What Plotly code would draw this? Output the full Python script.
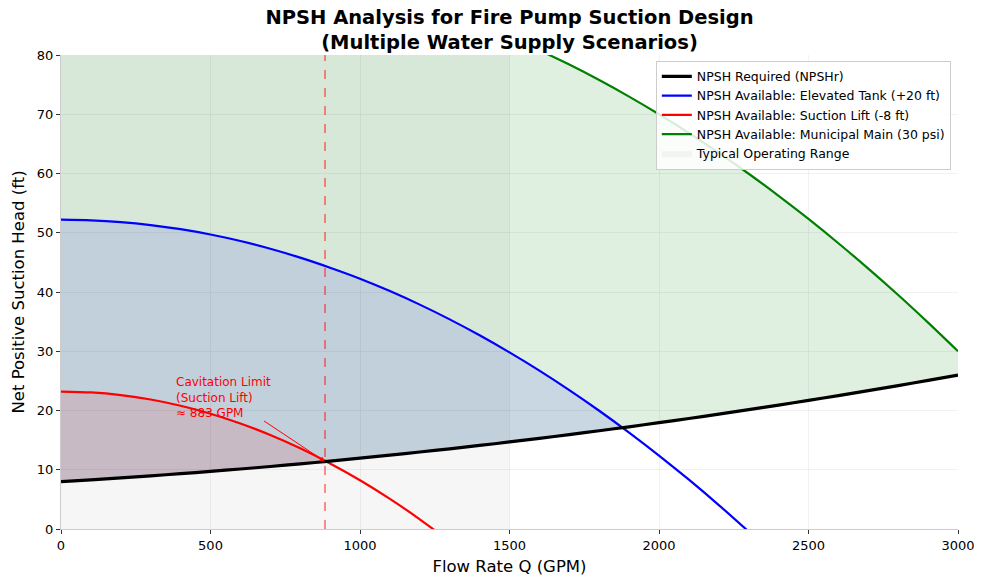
import numpy as np
import plotly.graph_objects as go

# ---- data ----
Q = [0, 100, 200, 300, 400, 500, 600, 700, 800, 900, 1000, 1100, 1200, 1300, 1400, 1500,
     1600, 1700, 1800, 1900, 2000, 2100, 2200, 2300, 2400, 2500, 2600, 2700, 2800, 2900, 3000]
npsh_required = [8.0, 8.3, 8.63, 8.97, 9.34, 9.72, 10.13, 10.55, 11.0, 11.46, 11.95, 12.46, 12.99,
                 13.53, 14.1, 14.69, 15.3, 15.93, 16.58, 17.25, 17.94, 18.65, 19.38, 20.14, 20.91,
                 21.7, 22.51, 23.35, 24.2, 25.08, 25.97]
npsh_elevated = [52.2, 52.1, 51.8, 51.3, 50.6, 49.7, 48.6, 47.3, 45.8, 44.1, 42.25, 40.16, 37.87,
                 35.38, 32.7, 29.81, 26.73, 23.44, 19.96, 16.28, 12.4, 8.32, 4.04, -0.44]
npsh_suction = [23.2, 23.05, 22.6, 21.85, 20.8, 19.46, 17.81, 15.86, 13.62, 11.07, 8.23, 5.09, 1.64, -2.1]
npsh_municipal = [94.2, 94.76, 95.13, 95.31, 95.31, 95.12, 94.75, 94.19, 93.45, 92.52, 91.4, 90.1,
                  88.61, 86.94, 85.08, 83.03, 80.79, 78.38, 75.77, 72.98, 70.0, 66.84, 63.49, 59.96,
                  56.23, 52.33, 48.23, 43.95, 39.49, 34.83, 30.0]
operating_range = [0, 1500]
cavitation_q = 883
x_ticks = [0, 500, 1000, 1500, 2000, 2500, 3000]
y_ticks = [0, 10, 20, 30, 40, 50, 60, 70, 80]

FONT = "DejaVu Sans"


def fill_between(q, upper, lower):
    """Build polygon of region where upper > lower, adding crossing points."""
    n = min(len(upper), len(lower))
    q = np.array(q[:n], float)
    u = np.array(upper[:n], float)
    l = np.array(lower[:n], float)
    xs, tops, bots = [], [], []
    for i in range(n):
        if u[i] >= l[i]:
            xs.append(q[i]); tops.append(u[i]); bots.append(l[i])
        if i < n - 1:
            d0, d1 = u[i] - l[i], u[i + 1] - l[i + 1]
            if d0 * d1 < 0:
                t = d0 / (d0 - d1)
                xc = q[i] + t * (q[i + 1] - q[i])
                yc = l[i] + t * (l[i + 1] - l[i])
                xs.append(xc); tops.append(yc); bots.append(yc)
    px = xs + xs[::-1]
    py = tops + bots[::-1]
    return px, py


fig = go.Figure()

# operating range band
fig.add_trace(go.Scatter(
    x=[operating_range[0], operating_range[1], operating_range[1], operating_range[0], operating_range[0]],
    y=[0, 0, 80, 80, 0], fill="toself", fillcolor="rgba(128,128,128,0.07)",
    mode="lines", line=dict(width=0), name="Typical Operating Range",
    legendrank=5, hoverinfo="skip"))

# fills
for vals, col in [(npsh_municipal, "rgba(0,128,0,0.12)"),
                  (npsh_elevated, "rgba(0,0,255,0.10)"),
                  (npsh_suction, "rgba(255,0,0,0.10)")]:
    px, py = fill_between(Q, vals, npsh_required)
    fig.add_trace(go.Scatter(x=px, y=py, fill="toself", fillcolor=col, mode="lines",
                             line=dict(width=0), showlegend=False, hoverinfo="skip"))

# lines
fig.add_trace(go.Scatter(x=Q, y=npsh_elevated, mode="lines",
                         line=dict(color="blue", width=2.2, shape="spline", smoothing=0.8),
                         name="NPSH Available: Elevated Tank (+20 ft)", legendrank=2))
fig.add_trace(go.Scatter(x=Q, y=npsh_suction, mode="lines",
                         line=dict(color="red", width=2.2, shape="spline", smoothing=0.8),
                         name="NPSH Available: Suction Lift (-8 ft)", legendrank=3))
fig.add_trace(go.Scatter(x=Q, y=npsh_municipal, mode="lines",
                         line=dict(color="green", width=2.2, shape="spline", smoothing=0.8),
                         name="NPSH Available: Municipal Main (30 psi)", legendrank=4))
fig.add_trace(go.Scatter(x=Q, y=npsh_required, mode="lines",
                         line=dict(color="black", width=3.2, shape="spline", smoothing=0.8),
                         name="NPSH Required (NPSHr)", legendrank=1))

# cavitation line
fig.add_shape(type="line", x0=cavitation_q, x1=cavitation_q, y0=0, y1=1, yref="paper",
              line=dict(color="rgba(255,0,0,0.55)", width=1.6, dash="dash"))

y_cav = float(np.interp(cavitation_q, Q, npsh_required))
fig.add_annotation(x=cavitation_q, y=y_cav, ax=674, ay=18.4, axref="x", ayref="y",
                   showarrow=True, arrowhead=2, arrowsize=1, arrowwidth=1,
                   arrowcolor="red", text="")
fig.add_annotation(x=378, y=26.4, xanchor="left", yanchor="top", showarrow=False,
                   align="left", text="Cavitation Limit<br>(Suction Lift)<br>≈ 883 GPM",
                   font=dict(family=FONT, size=12, color="red"))

fig.update_layout(
    width=987, height=586,
    margin=dict(l=61, r=27, t=55, b=57),
    paper_bgcolor="white", plot_bgcolor="white",
    font=dict(family=FONT, size=12, color="black"),
    title=dict(text="<b>NPSH Analysis for Fire Pump Suction Design<br>(Multiple Water Supply Scenarios)</b>",
               x=0.5, xref="paper", xanchor="center", y=1, yref="paper", yanchor="bottom",
               pad=dict(b=31),
               font=dict(family=FONT, size=19.5, color="black")),
    legend=dict(x=0.992, y=0.988, xanchor="right", yanchor="top",
                bgcolor="rgba(255,255,255,0.85)", bordercolor="#cccccc", borderwidth=1,
                font=dict(family=FONT, size=12.5), tracegroupgap=0, itemwidth=30),
    showlegend=True,
)
fig.update_xaxes(range=[0, 3000], tickvals=x_ticks, showgrid=True, gridcolor="rgba(0,0,0,0.05)",
                 zeroline=False, showline=True, linecolor="#cccccc", linewidth=1,
                 ticks="outside", ticklen=4, tickcolor="#333333",
                 tickfont=dict(family=FONT, size=13),
                 title=dict(text="Flow Rate Q (GPM)", font=dict(family=FONT, size=16.5), standoff=8))
fig.update_yaxes(range=[0, 80], tickvals=y_ticks, showgrid=True, gridcolor="rgba(0,0,0,0.05)",
                 zeroline=False, showline=True, linecolor="#cccccc", linewidth=1,
                 ticks="outside", ticklen=4, tickcolor="#333333",
                 tickfont=dict(family=FONT, size=13),
                 title=dict(text="Net Positive Suction Head (ft)", font=dict(family=FONT, size=16.5), standoff=8))

fig.write_html("out.html")
